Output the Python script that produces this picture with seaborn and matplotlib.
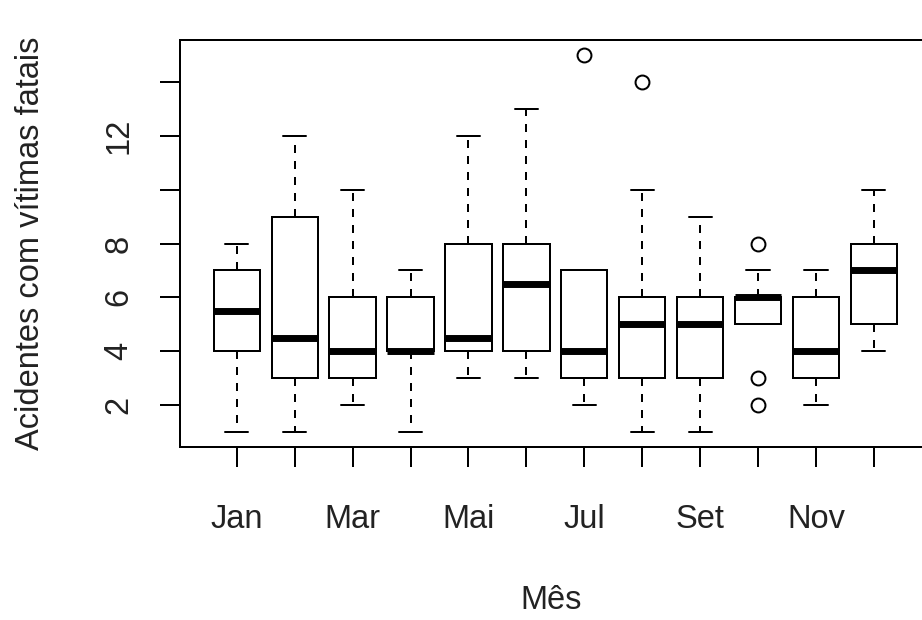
import matplotlib
matplotlib.use("Agg")
import matplotlib.pyplot as plt
import pandas as pd
import seaborn as sns

# accidents with fatal victims per month (one value per year)
meses = ["Jan", "Fev", "Mar", "Abr", "Mai", "Jun",
         "Jul", "Ago", "Set", "Out", "Nov", "Dez"]
jan = [1, 3, 4, 4, 5, 6, 7, 7, 8, 8]
fev = [1, 2, 3, 3, 4, 5, 9, 9, 10, 12]
mar = [2, 3, 3, 3, 4, 4, 6, 6, 8, 10]
abr = [1, 3, 4, 4, 4, 4, 6, 6, 7, 7]
mai = [3, 4, 4, 4, 4, 5, 8, 8, 10, 12]
jun = [3, 4, 4, 4, 6, 7, 8, 8, 10, 13]
jul = [2, 3, 3, 3, 4, 4, 7, 7, 7, 15]
ago = [1, 3, 3, 3, 5, 5, 6, 6, 10, 14]
set_ = [1, 2, 3, 3, 5, 5, 6, 6, 7, 9]
out = [2, 3, 5, 5, 6, 6, 6, 6, 7, 8]
nov = [2, 3, 3, 3, 4, 4, 6, 6, 7, 7]
dez = [4, 5, 5, 5, 7, 7, 8, 8, 9, 10]

y_ticks = [2, 4, 6, 8, 10, 12, 14]
y_labels = ["2", "4", "6", "8", "", "12", ""]
x_labels = ["Jan", "", "Mar", "", "Mai", "", "Jul", "", "Set", "", "Nov", ""]

valores = [jan, fev, mar, abr, mai, jun, jul, ago, set_, out, nov, dez]
df = pd.DataFrame({
    "Mes": [m for m, v in zip(meses, valores) for _ in v],
    "Acidentes": [x for v in valores for x in v],
})

sns.set_theme(style="white")
plt.rcParams["font.family"] = ["Liberation Sans", "DejaVu Sans"]

lw = 1.44
fs = 23.5

fig = plt.figure(figsize=(9.22, 6.2), dpi=100)
ax = fig.add_axes([180 / 922, 173 / 620, 750.6 / 922, 407 / 620])

sns.boxplot(
    data=df, x="Mes", y="Acidentes", order=meses, ax=ax,
    color="white", linecolor="black", linewidth=lw, width=0.8, whis=1.5,
    medianprops=dict(color="black", linewidth=5),
    whiskerprops=dict(color="black", linewidth=lw, linestyle=(0, (4, 4))),
    capprops=dict(color="black", linewidth=lw),
    flierprops=dict(marker="o", markerfacecolor="none", markeredgecolor="black",
                    markersize=10, markeredgewidth=lw),
)

ax.set_xlim(-0.98, 11.98)
ax.set_ylim(0.44, 15.56)
ax.set_yticks(y_ticks)
ax.set_yticklabels(y_labels)
ax.set_xticks(range(len(meses)))
ax.set_xticklabels(x_labels)

for s in ax.spines.values():
    s.set_visible(True)
    s.set_color("black")
    s.set_linewidth(lw)

ax.tick_params(axis="both", which="major", direction="out", length=14.4,
               width=lw, color="black", labelsize=fs, labelcolor="#222222",
               bottom=True, left=True)
ax.tick_params(axis="y", pad=18.5, labelrotation=90)
ax.tick_params(axis="x", pad=27)
for t in ax.get_yticklabels():
    t.set_va("center")

ax.set_xlabel("Mês", fontsize=fs, color="#222222")
ax.set_ylabel("Acidentes com vítimas fatais", fontsize=fs, color="#222222")
ax.xaxis.set_label_coords(0.494, -0.378)
ax.xaxis.label.set_va("center")
ax.yaxis.set_label_coords(-0.1998, 0.5)
ax.yaxis.label.set_va("center")

fig.savefig("out.png", dpi=100)
